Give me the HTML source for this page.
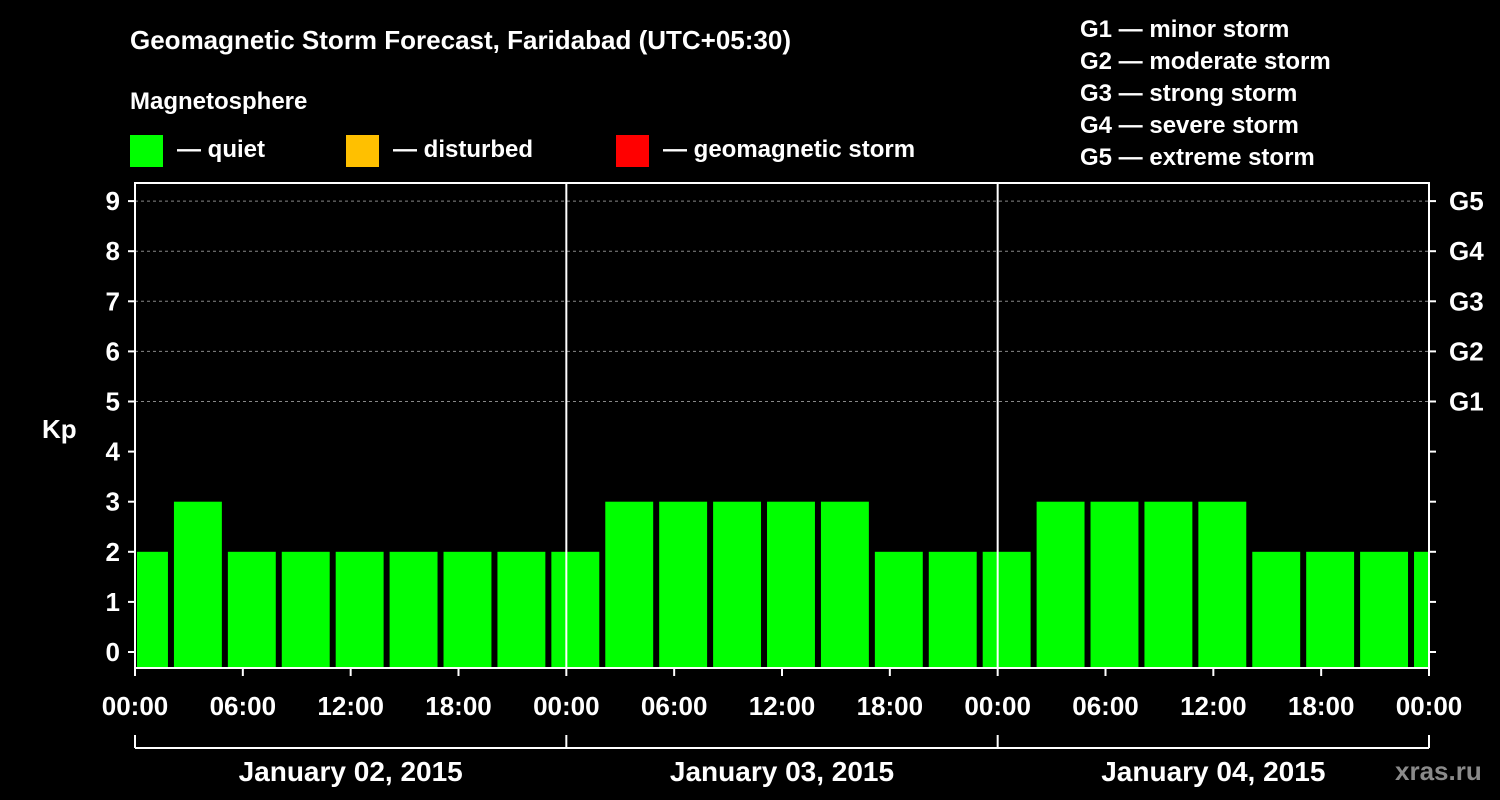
<!DOCTYPE html>
<html><head><meta charset="utf-8"><style>
body{margin:0;background:#000;width:1500px;height:800px;overflow:hidden}
svg{display:block}
text{font-family:"Liberation Sans",Arial,sans-serif;font-weight:bold;fill:#fff}
</style></head><body>
<svg id="chart" width="1500" height="800">
<text x="130" y="49" font-size="26">Geomagnetic Storm Forecast, Faridabad (UTC+05:30)</text>
<text x="130" y="109" font-size="24">Magnetosphere</text>
<g><rect x="130" y="135" width="33" height="32" fill="#00ff00"/><text x="177" y="157" font-size="24">— quiet</text></g>
<g><rect x="346" y="135" width="33" height="32" fill="#ffc000"/><text x="393" y="157" font-size="24">— disturbed</text></g>
<g><rect x="616" y="135" width="33" height="32" fill="#ff0000"/><text x="663" y="157" font-size="24">— geomagnetic storm</text></g>
<g font-size="24">
<text x="1080" y="37">G1 — minor storm</text><text x="1080" y="69">G2 — moderate storm</text><text x="1080" y="101">G3 — strong storm</text><text x="1080" y="133">G4 — severe storm</text><text x="1080" y="165">G5 — extreme storm</text></g>
<g id="plot"></g>
<text x="42" y="438" font-size="26">Kp</text>
<text x="1395" y="780" font-size="26" fill="#888" style="fill:#8a8a8a">xras.ru</text>
</svg>
<script>
const binStartHours=[-1,2,5,8,11,14,17,20,23,26,29,32,35,38,41,44,47,50,53,56,59,62,65,68,71];
const kpValues=[2,3,2,2,2,2,2,2,2,3,3,3,3,3,2,2,2,3,3,3,3,2,2,2,2];
const yTicks=[0,1,2,3,4,5,6,7,8,9];
const gLabels=["G1","G2","G3","G4","G5"];
const timeLabels=["00:00","06:00","12:00","18:00","00:00","06:00","12:00","18:00","00:00","06:00","12:00","18:00","00:00"];
const dayLabels=["January 02, 2015","January 03, 2015","January 04, 2015"];
const NS="http://www.w3.org/2000/svg";
const L=135,R=1429,T=183,B=668;
const x=h=>L+h*(R-L)/72;
const y=v=>652-v*50.1;
const g=document.getElementById('plot');
function mk(t,a){const e=document.createElementNS(NS,t);for(const k in a)e.setAttribute(k,a[k]);g.appendChild(e);return e;}
// grid
for(let v=5;v<=9;v++){const e=mk('line',{x1:L,x2:R,y1:y(v),y2:y(v),stroke:'#888','stroke-dasharray':'3,3','stroke-width':1});

}
// bars
binStartHours.forEach((h,i)=>{const v=kpValues[i];const c=v>=5?'#ff0000':(v>=4?'#ffc000':'#00ff00');
let x1=Math.max(x(h)+3,L+2),x2=Math.min(x(h+3)-3,R-1);
const e=mk('rect',{x:x1,y:y(v),width:x2-x1,height:B-y(v),fill:c});

});
// day separators
[24,48].forEach(h=>{const e=mk('line',{x1:x(h),x2:x(h),y1:T,y2:B,stroke:'#fff','stroke-width':2});

});
// frame
const f=mk('rect',{x:L,y:T,width:R-L,height:B-T,fill:'none',stroke:'#fff','stroke-width':2});


// y ticks
yTicks.forEach(v=>{mk('line',{x1:L-7,x2:L,y1:y(v),y2:y(v),stroke:'#fff','stroke-width':2});
mk('line',{x1:R,x2:R+7,y1:y(v),y2:y(v),stroke:'#fff','stroke-width':2});
const t=mk('text',{x:L-15,y:y(v)+9,'font-size':26,'text-anchor':'end'});t.textContent=v;

});
gLabels.forEach((s,i)=>{const t=mk('text',{x:1449,y:y(5+i)+9,'font-size':26});t.textContent=s;

});
// x ticks
timeLabels.forEach((s,i)=>{const xx=x(i*6);mk('line',{x1:xx,x2:xx,y1:B,y2:B+8,stroke:'#fff','stroke-width':2});
const t=mk('text',{x:xx,y:715,'font-size':26,'text-anchor':'middle'});t.textContent=s;

});
// day brackets
mk('line',{x1:L,x2:R,y1:748,y2:748,stroke:'#fff','stroke-width':2});
[0,24,48,72].forEach(h=>mk('line',{x1:x(h),x2:x(h),y1:735,y2:748,stroke:'#fff','stroke-width':2}));
dayLabels.forEach((s,i)=>{const t=mk('text',{x:x(i*24+12),y:781,'font-size':28,'text-anchor':'middle'});t.textContent=s;

});
</script>
</body></html>
